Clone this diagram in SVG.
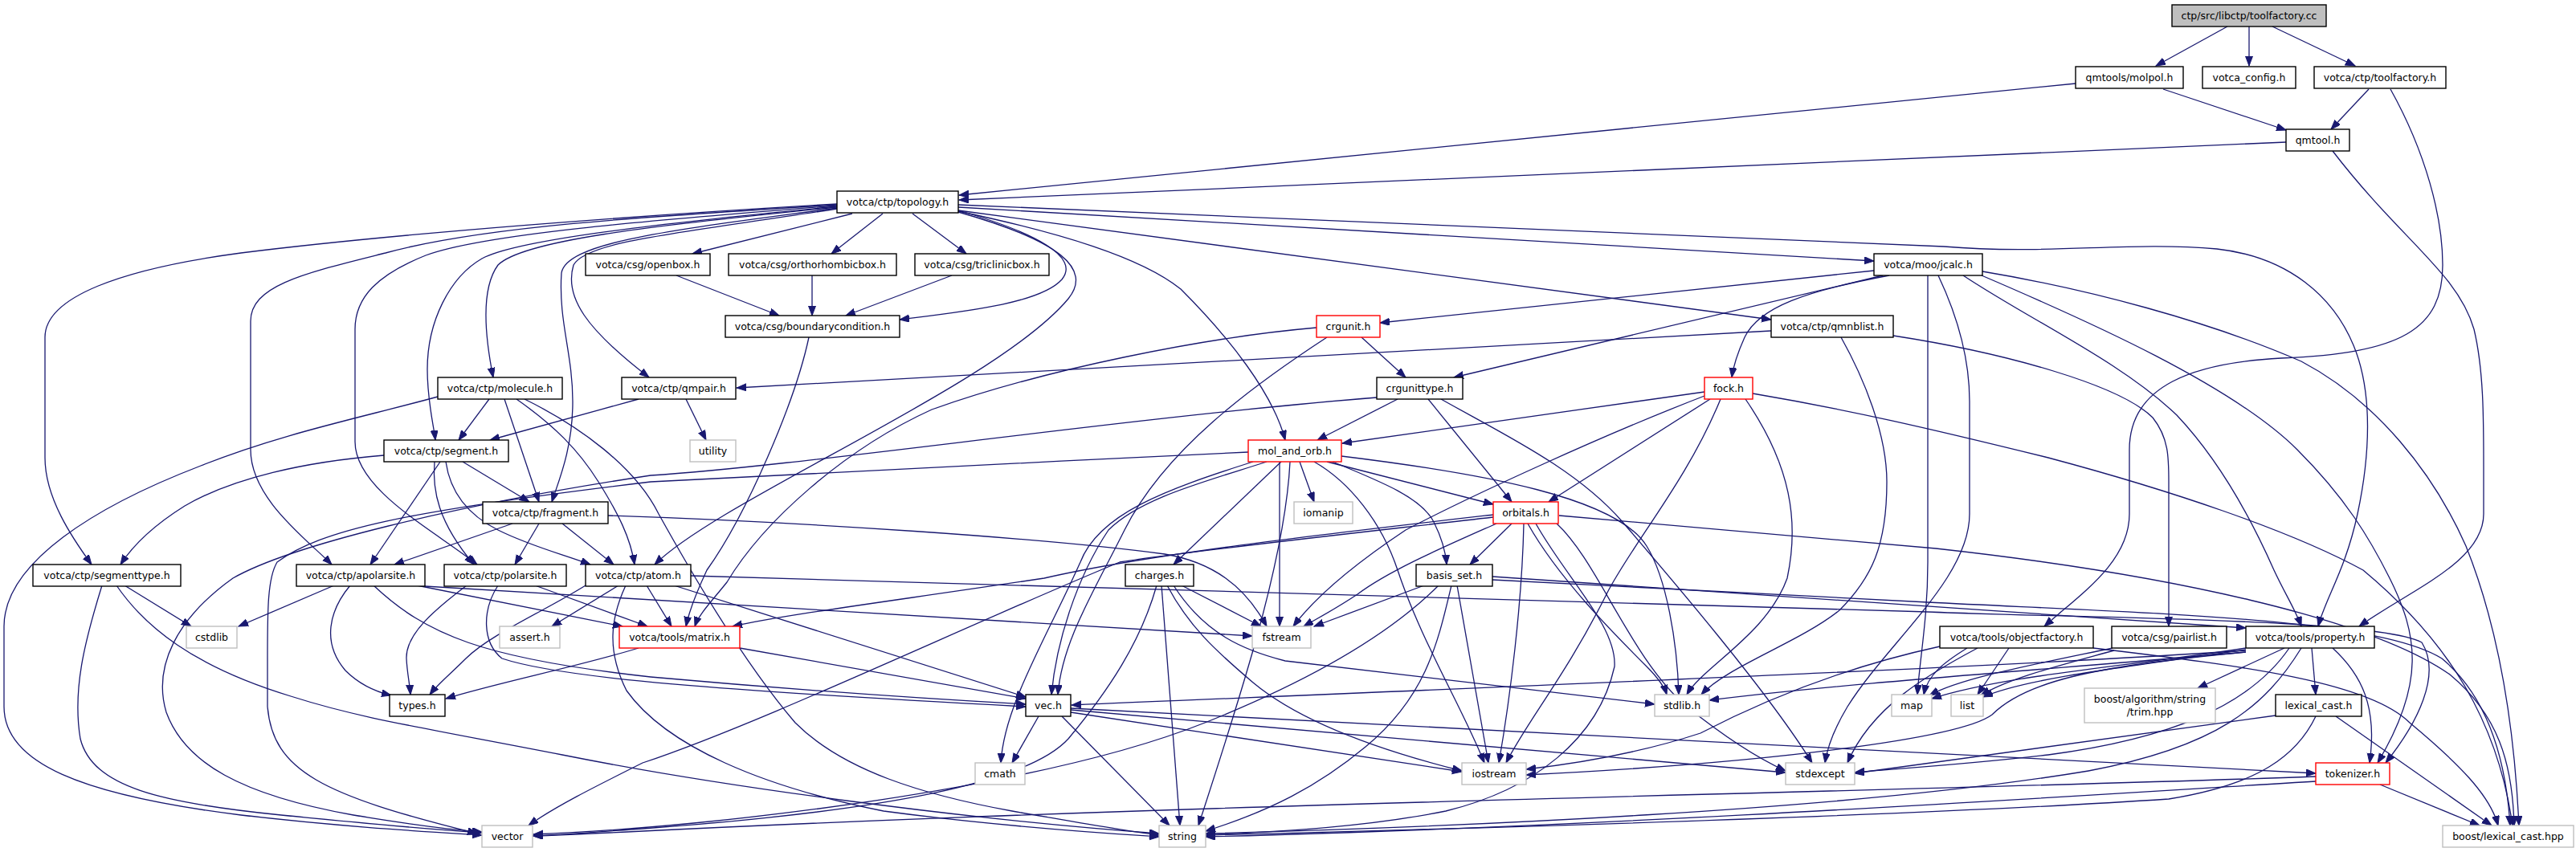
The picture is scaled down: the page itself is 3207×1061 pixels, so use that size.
<svg xmlns="http://www.w3.org/2000/svg" width="3207" height="1061" viewBox="0 0 3207 1061">
<defs>
<marker id="a" markerWidth="13" markerHeight="10" refX="12" refY="4.5" orient="auto" markerUnits="userSpaceOnUse"><path d="M0,0 L12,4.5 L0,9 z" fill="#191970" stroke="#191970" stroke-width="1"/></marker>
<style>
.n rect{fill:#fff;stroke:#000;stroke-width:1.4}
.g rect{fill:#fff;stroke:#bfbfbf;stroke-width:1.4}
.r rect{fill:#fff;stroke:#ff0000;stroke-width:1.4}
.root rect{fill:#bfbfbf;stroke:#000;stroke-width:1.4}
text{font-family:"DejaVu Sans","Liberation Sans",sans-serif;font-size:12.5px;text-anchor:middle;fill:#000}
#edges path{fill:none;stroke:#191970;stroke-width:1.3;marker-end:url(#a)}
</style>
</defs>
<rect width="3207" height="1061" fill="#fff"/>
<g id="edges">
<path d="M2773,33 L2684,82"/>
<path d="M2800,33 L2800,82"/>
<path d="M2829,33 L2932,82"/>
<path d="M2693,111 L2846,162"/>
<path d="M2949,111 L2902,161"/>
<path d="M2584,104 L1194,243"/>
<path d="M2846,177 L1194,249"/>
<path d="M2976,111 C3020,190 3041,270 3041,330 C3041,410 2990,440 2840,446 C2730,452 2651,480 2651,560 L2651,640 C2651,700 2590,740 2545,780"/>
<path d="M2904,188 C2990,300 3060,340 3080,410 C3092,460 3092,520 3092,580 L3092,640 C3092,700 3000,735 2937,780"/>
<path d="M1061,266 L862,316"/>
<path d="M1099,266 L1035,316"/>
<path d="M1136,266 L1203,316"/>
<path d="M1193,258 L2333,325"/>
<path d="M1193,262 L2205,398"/>
<path d="M1193,255 L2420,307 C2550,318 2650,300 2760,310 C2850,320 2905,370 2930,430 C2955,490 2950,570 2935,640 C2920,710 2895,745 2886,780"/>
<path d="M1193,263 C1320,290 1420,320 1470,360 C1530,420 1585,490 1600,548"/>
<path d="M1193,262 C1290,290 1345,320 1322,348 C1295,378 1200,388 1120,398"/>
<path d="M1193,264 C1320,300 1360,335 1330,372 C1240,480 900,620 815,703"/>
<path d="M1042,254 C800,268 500,290 300,315 C150,335 56,370 56,420 L56,570 C56,620 90,670 114,703"/>
<path d="M1042,255 C800,270 600,282 480,315 C380,340 312,355 312,400 L312,560 C312,620 380,670 413,703"/>
<path d="M1042,256 C800,275 600,292 530,318 C470,342 442,370 442,410 L442,550 C442,610 540,660 594,703"/>
<path d="M1042,257 C800,280 640,300 600,322 C560,345 532,400 532,460 C532,500 540,530 542,548"/>
<path d="M1042,258 C800,282 650,300 620,330 C598,360 604,420 614,470"/>
<path d="M1042,259 C850,285 705,300 699,340 C695,400 713,440 713,500 C713,560 695,600 687,625"/>
<path d="M1042,260 C850,290 730,300 714,330 C702,370 730,410 808,470"/>
<path d="M842,343 L970,393"/>
<path d="M1011,343 L1011,393"/>
<path d="M1185,343 L1053,393"/>
<path d="M1007,420 C990,500 930,640 880,710 C866,740 858,760 854,780"/>
<path d="M2333,337 L1718,402"/>
<path d="M2344,343 L1810,470"/>
<path d="M2352,343 C2250,362 2190,382 2172,420 C2163,440 2158,455 2156,470"/>
<path d="M2400,343 L2400,700 C2400,770 2390,820 2387,865"/>
<path d="M2444,343 C2530,400 2640,450 2710,517 C2760,570 2800,640 2831,710 C2845,740 2858,760 2865,780"/>
<path d="M2413,343 C2440,400 2452,450 2452,500 L2452,640 C2452,720 2350,800 2300,880 C2285,905 2275,930 2272,950"/>
<path d="M2467,343 C2600,400 2780,480 2860,560 C2920,620 2950,670 2975,720 C3010,790 3020,850 2960,950"/>
<path d="M2468,338 C2600,360 2750,400 2865,450 C2960,500 3030,590 3070,680 C3110,780 3130,900 3136,1028"/>
<path d="M1695,420 L1750,470"/>
<path d="M1639,408 C1500,420 1300,460 1160,510 C1050,560 950,650 905,725 C885,750 870,765 865,780"/>
<path d="M1652,420 C1560,480 1450,560 1400,660 C1360,740 1322,800 1317,865"/>
<path d="M2205,412 L917,483"/>
<path d="M2357,418 C2500,440 2640,480 2680,520 C2700,545 2700,570 2700,600 L2700,780"/>
<path d="M2292,420 C2320,470 2349,540 2349,600 C2349,680 2330,720 2290,760 C2240,800 2150,830 2118,865"/>
<path d="M609,497 L571,548"/>
<path d="M628,497 L671,625"/>
<path d="M643,497 C690,530 720,560 745,600 C770,640 785,670 790,703"/>
<path d="M545,494 C450,520 350,540 250,580 C120,630 5,700 5,780 L5,880 C5,950 100,990 300,1015 C430,1030 520,1035 600,1040"/>
<path d="M653,497 C720,530 790,580 820,640 C870,730 930,830 990,900 C1050,960 1150,990 1260,1010 C1330,1022 1400,1035 1443,1040"/>
<path d="M795,497 L610,548"/>
<path d="M854,497 L879,548"/>
<path d="M478,567 C380,575 290,595 230,630 C190,655 165,680 150,703"/>
<path d="M548,575 L461,703"/>
<path d="M541,575 C538,610 545,650 590,703"/>
<path d="M576,575 L659,625"/>
<path d="M555,575 C560,610 580,640 620,660 C660,680 700,690 735,703"/>
<path d="M638,652 L491,703"/>
<path d="M671,652 L641,703"/>
<path d="M700,652 L764,703"/>
<path d="M757,642 C1000,650 1300,670 1450,690 C1510,700 1550,730 1577,780"/>
<path d="M155,729 L238,780"/>
<path d="M127,729 C105,800 90,860 100,920 C115,980 200,1000 350,1015 C450,1025 540,1033 600,1037"/>
<path d="M145,729 C180,780 240,830 362,867 C450,895 520,905 700,940 C900,980 1200,1020 1443,1038"/>
<path d="M416,729 L297,780"/>
<path d="M436,729 C410,760 400,800 430,835 C445,850 462,860 487,866"/>
<path d="M465,729 C530,790 600,820 810,843 C1000,860 1150,870 1277,877"/>
<path d="M519,729 L775,780"/>
<path d="M529,730 L1559,792"/>
<path d="M581,729 C540,760 505,790 506,820 C507,840 510,850 511,865"/>
<path d="M666,729 L806,780"/>
<path d="M620,729 C600,760 600,800 625,820 C700,845 900,860 1277,880"/>
<path d="M770,729 L687,780"/>
<path d="M729,729 C680,760 610,790 580,820 C560,840 545,852 535,865"/>
<path d="M805,729 L836,780"/>
<path d="M839,729 L1277,868"/>
<path d="M779,729 C760,770 755,810 780,860 C830,930 950,980 1100,1010 C1250,1030 1380,1038 1443,1042"/>
<path d="M860,717 L2400,762 C2600,770 2960,770 3015,800 C3040,840 3010,900 2970,950"/>
<path d="M795,807 C720,830 620,850 555,870"/>
<path d="M921,807 L1277,870"/>
<path d="M1471,729 L1570,780"/>
<path d="M1446,729 L1469,1028"/>
<path d="M1440,729 C1420,800 1380,860 1330,920 C1280,975 1100,1010 800,1032 C740,1036 700,1040 664,1041"/>
<path d="M1453,729 C1480,780 1513,810 1560,850 C1620,900 1720,935 1820,960"/>
<path d="M1461,729 C1500,790 1549,810 1600,823 L2060,877"/>
<path d="M1293,892 L1260,950"/>
<path d="M1322,892 L1456,1028"/>
<path d="M1333,887 L1820,961"/>
<path d="M1333,884 L2223,962"/>
<path d="M1333,882 L2883,963"/>
<path d="M1618,575 L1636,625"/>
<path d="M1652,575 L1859,628"/>
<path d="M1595,575 L1461,703"/>
<path d="M1577,575 C1500,600 1420,620 1380,660 C1340,720 1315,800 1309,865"/>
<path d="M1560,575 C1450,610 1368,640 1345,700 C1300,800 1250,880 1246,950"/>
<path d="M1593,575 L1593,780"/>
<path d="M1606,575 C1600,700 1540,880 1492,1028"/>
<path d="M1659,575 C1720,600 1770,620 1785,650 C1795,670 1800,690 1801,703"/>
<path d="M1670,568 C1850,590 2013,620 2050,680 C2075,720 2088,800 2090,865"/>
<path d="M1636,575 C1680,600 1720,650 1740,710 C1770,800 1820,880 1848,950"/>
<path d="M1554,563 C1300,575 1000,590 810,600 C500,637 400,660 345,700 C333,720 333,760 333,820 L333,880 C340,960 400,990 594,1038"/>
<path d="M1740,497 L1640,548"/>
<path d="M1778,497 L1882,625"/>
<path d="M1794,497 C1870,540 1962,583 2020,650 C2080,720 2200,860 2256,950"/>
<path d="M1714,495 C1400,520 1000,580 810,592 C560,630 360,680 290,720 C220,770 190,830 207,887 C230,950 300,990 440,1015 C500,1025 560,1033 600,1036"/>
<path d="M2122,488 L1671,552"/>
<path d="M2129,497 L1928,625"/>
<path d="M2122,493 C2000,540 1832,617 1750,660 C1690,700 1640,740 1610,780"/>
<path d="M2142,497 C2100,600 2030,680 2000,740 C1950,840 1900,900 1875,950"/>
<path d="M2173,497 C2230,580 2240,650 2225,720 C2200,790 2120,830 2100,865"/>
<path d="M2182,490 C2300,510 2400,533 2550,570 C2700,610 2850,660 2942,710 C3050,800 3110,900 3128,1028"/>
<path d="M1882,652 L1830,703"/>
<path d="M1859,641 C1650,665 1430,690 1300,720 C1100,750 980,765 912,780"/>
<path d="M1859,644 C1650,668 1450,690 1394,700 C1200,780 950,900 800,950 C740,980 690,1005 658,1028"/>
<path d="M1863,652 C1800,680 1730,710 1690,740 C1660,760 1640,770 1623,780"/>
<path d="M1902,652 C1940,720 2010,790 2050,830 C2065,845 2072,855 2075,865"/>
<path d="M1897,652 C1895,750 1880,870 1866,950"/>
<path d="M1912,652 C1950,720 2013,780 2010,830 C1990,920 1910,983 1800,1010 C1700,1030 1600,1035 1501,1040"/>
<path d="M1938,652 C1990,700 2030,820 2100,880 C2150,920 2190,945 2223,960"/>
<path d="M1941,642 L2410,683 C2700,715 2950,770 3050,840 C3110,890 3128,950 3130,1028"/>
<path d="M1773,729 L1636,780"/>
<path d="M1814,729 L1853,950"/>
<path d="M1807,729 C1790,800 1776,867 1700,930 C1640,980 1580,1010 1501,1035"/>
<path d="M1791,729 C1740,780 1650,840 1500,900 C1300,980 900,1030 664,1039"/>
<path d="M1858,718 L2796,782"/>
<path d="M1858,722 L2400,750 C2700,765 2960,770 3040,820 C3100,870 3120,950 3125,1028"/>
<path d="M2449,807 C2420,825 2400,840 2395,865"/>
<path d="M2501,807 L2462,865"/>
<path d="M2415,805 C2300,830 2200,870 2117,913 C2050,935 1970,950 1900,958"/>
<path d="M2462,807 C2400,840 2330,880 2300,950"/>
<path d="M2606,807 C2800,830 2950,850 3000,900 C3060,950 3100,990 3110,1028"/>
<path d="M2630,807 C2520,830 2440,845 2402,866"/>
<path d="M2632,810 C2560,830 2500,845 2466,866"/>
<path d="M2844,807 L2736,857"/>
<path d="M2878,807 L2883,865"/>
<path d="M2904,807 C2940,840 2960,880 2950,950"/>
<path d="M2796,807 C2650,830 2500,840 2405,870"/>
<path d="M2796,809 C2650,830 2520,845 2469,868"/>
<path d="M2796,810 C2500,830 2000,850 1334,878"/>
<path d="M2796,812 C2600,830 2300,850 2128,872"/>
<path d="M2796,812 C2600,830 2520,850 2480,890 C2440,920 2200,950 1900,965"/>
<path d="M2850,807 C2800,880 2700,920 2550,940 C2450,952 2350,958 2309,962"/>
<path d="M2865,807 C2820,880 2760,930 2600,960 C2300,1010 1800,1030 1501,1038"/>
<path d="M2833,891 L2309,963"/>
<path d="M2883,892 C2860,940 2813,977 2700,995 C2400,1015 1900,1030 1501,1040"/>
<path d="M2908,892 L3102,1028"/>
<path d="M2963,977 L3087,1028"/>
<path d="M2883,973 C2600,990 2000,1030 1501,1042"/>
<path d="M2883,967 C2400,985 1500,1000 800,1035 C740,1038 700,1040 664,1041"/>
</g>
<g id="n_root" class="root"><rect x="2704" y="6" width="192" height="27"/><text x="2800" y="24">ctp/src/libctp/toolfactory.cc</text></g>
<g id="n_molpol" class="n"><rect x="2584" y="83" width="134" height="27"/><text x="2651" y="101">qmtools/molpol.h</text></g>
<g id="n_config" class="n"><rect x="2742" y="83" width="116" height="27"/><text x="2800" y="101">votca_config.h</text></g>
<g id="n_tfh" class="n"><rect x="2881" y="83" width="164" height="27"/><text x="2963" y="101">votca/ctp/toolfactory.h</text></g>
<g id="n_qmtool" class="n"><rect x="2846" y="161" width="79" height="27"/><text x="2885.5" y="179">qmtool.h</text></g>
<g id="n_topology" class="n"><rect x="1042" y="238" width="151" height="27"/><text x="1117.5" y="256">votca/ctp/topology.h</text></g>
<g id="n_openbox" class="n"><rect x="729" y="316" width="155" height="27"/><text x="806.5" y="334">votca/csg/openbox.h</text></g>
<g id="n_ortho" class="n"><rect x="907" y="316" width="209" height="27"/><text x="1011.5" y="334">votca/csg/orthorhombicbox.h</text></g>
<g id="n_tricl" class="n"><rect x="1139" y="316" width="167" height="27"/><text x="1222.5" y="334">votca/csg/triclinicbox.h</text></g>
<g id="n_jcalc" class="n"><rect x="2333" y="316" width="135" height="27"/><text x="2400.5" y="334">votca/moo/jcalc.h</text></g>
<g id="n_bc" class="n"><rect x="903" y="393" width="217" height="27"/><text x="1011.5" y="411">votca/csg/boundarycondition.h</text></g>
<g id="n_crgunit" class="r"><rect x="1639" y="393" width="79" height="27"/><text x="1678.5" y="411">crgunit.h</text></g>
<g id="n_qmnblist" class="n"><rect x="2205" y="393" width="152" height="27"/><text x="2281" y="411">votca/ctp/qmnblist.h</text></g>
<g id="n_molecule" class="n"><rect x="545" y="470" width="155" height="27"/><text x="622.5" y="488">votca/ctp/molecule.h</text></g>
<g id="n_qmpair" class="n"><rect x="774" y="470" width="142" height="27"/><text x="845" y="488">votca/ctp/qmpair.h</text></g>
<g id="n_crgunittype" class="n"><rect x="1714" y="470" width="107" height="27"/><text x="1767.5" y="488">crgunittype.h</text></g>
<g id="n_fock" class="r"><rect x="2122" y="470" width="60" height="27"/><text x="2152" y="488">fock.h</text></g>
<g id="n_segment" class="n"><rect x="478" y="548" width="155" height="27"/><text x="555.5" y="566">votca/ctp/segment.h</text></g>
<g id="n_utility" class="g"><rect x="859" y="548" width="57" height="27"/><text x="887.5" y="566">utility</text></g>
<g id="n_molorb" class="r"><rect x="1554" y="548" width="116" height="27"/><text x="1612" y="566">mol_and_orb.h</text></g>
<g id="n_fragment" class="n"><rect x="601" y="625" width="156" height="27"/><text x="679" y="643">votca/ctp/fragment.h</text></g>
<g id="n_iomanip" class="g"><rect x="1611" y="625" width="73" height="27"/><text x="1647.5" y="643">iomanip</text></g>
<g id="n_orbitals" class="r"><rect x="1859" y="625" width="81" height="27"/><text x="1899.5" y="643">orbitals.h</text></g>
<g id="n_segmenttype" class="n"><rect x="41" y="703" width="184" height="27"/><text x="133" y="721">votca/ctp/segmenttype.h</text></g>
<g id="n_apolarsite" class="n"><rect x="369" y="703" width="160" height="27"/><text x="449" y="721">votca/ctp/apolarsite.h</text></g>
<g id="n_polarsite" class="n"><rect x="553" y="703" width="152" height="27"/><text x="629" y="721">votca/ctp/polarsite.h</text></g>
<g id="n_atom" class="n"><rect x="729" y="703" width="131" height="27"/><text x="794.5" y="721">votca/ctp/atom.h</text></g>
<g id="n_charges" class="n"><rect x="1401" y="703" width="85" height="27"/><text x="1443.5" y="721">charges.h</text></g>
<g id="n_basisset" class="n"><rect x="1763" y="703" width="95" height="27"/><text x="1810.5" y="721">basis_set.h</text></g>
<g id="n_cstdlib" class="g"><rect x="232" y="780" width="63" height="27"/><text x="263.5" y="798">cstdlib</text></g>
<g id="n_assert" class="g"><rect x="622" y="780" width="75" height="27"/><text x="659.5" y="798">assert.h</text></g>
<g id="n_matrix" class="r"><rect x="771" y="780" width="150" height="27"/><text x="846" y="798">votca/tools/matrix.h</text></g>
<g id="n_fstream" class="g"><rect x="1559" y="780" width="73" height="27"/><text x="1595.5" y="798">fstream</text></g>
<g id="n_objfactory" class="n"><rect x="2415" y="780" width="191" height="27"/><text x="2510.5" y="798">votca/tools/objectfactory.h</text></g>
<g id="n_pairlist" class="n"><rect x="2629" y="780" width="143" height="27"/><text x="2700.5" y="798">votca/csg/pairlist.h</text></g>
<g id="n_property" class="n"><rect x="2796" y="780" width="160" height="27"/><text x="2876" y="798">votca/tools/property.h</text></g>
<g id="n_types" class="n"><rect x="485" y="865" width="69" height="27"/><text x="519.5" y="883">types.h</text></g>
<g id="n_vec" class="n"><rect x="1277" y="865" width="56" height="27"/><text x="1305" y="883">vec.h</text></g>
<g id="n_stdlib" class="g"><rect x="2060" y="865" width="68" height="27"/><text x="2094" y="883">stdlib.h</text></g>
<g id="n_map" class="g"><rect x="2355" y="865" width="50" height="27"/><text x="2380" y="883">map</text></g>
<g id="n_list" class="g"><rect x="2429" y="865" width="40" height="27"/><text x="2449" y="883">list</text></g>
<g id="n_trim" class="g"><rect x="2595" y="857" width="163" height="43"/><text x="2676.5" y="875">boost/algorithm/string</text><text x="2676.5" y="891">/trim.hpp</text></g>
<g id="n_lexcast" class="n"><rect x="2833" y="865" width="107" height="27"/><text x="2886.5" y="883">lexical_cast.h</text></g>
<g id="n_cmath" class="g"><rect x="1214" y="950" width="62" height="27"/><text x="1245" y="968">cmath</text></g>
<g id="n_iostream" class="g"><rect x="1820" y="950" width="80" height="27"/><text x="1860" y="968">iostream</text></g>
<g id="n_stdexcept" class="g"><rect x="2223" y="950" width="86" height="27"/><text x="2266" y="968">stdexcept</text></g>
<g id="n_tokenizer" class="r"><rect x="2883" y="950" width="92" height="27"/><text x="2929" y="968">tokenizer.h</text></g>
<g id="n_vector" class="g"><rect x="600" y="1028" width="63" height="27"/><text x="631.5" y="1046">vector</text></g>
<g id="n_string" class="g"><rect x="1443" y="1028" width="58" height="27"/><text x="1472" y="1046">string</text></g>
<g id="n_lexcasthpp" class="g"><rect x="3041" y="1028" width="163" height="27"/><text x="3122.5" y="1046">boost/lexical_cast.hpp</text></g>
</svg>
